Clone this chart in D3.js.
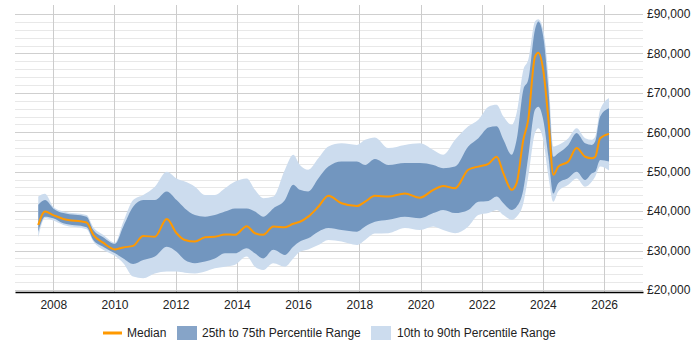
<!DOCTYPE html>
<html>
<head>
  <meta charset="utf-8">
  <script src="https://d3js.org/d3.v7.min.js"></script>
  <style>
    html, body { margin: 0; padding: 0; background: #fff; }
    svg { display: block; font-family: "Liberation Sans", Arial, sans-serif; }
  </style>
</head>
<body>
  <svg width="700" height="350"></svg>
  <script>
    // decimal years
    const years = [2007.51, 2007.73, 2008.0, 2008.33, 2009.09, 2009.31, 2009.63, 2010.02, 2010.29, 2010.61,
      2010.94, 2011.32, 2011.71, 2012.03, 2012.30, 2012.63, 2012.96, 2013.28, 2013.61, 2013.94,
      2014.32, 2014.59, 2014.86, 2015.19, 2015.57, 2015.84, 2016.06, 2016.33, 2016.66, 2016.99,
      2017.42, 2017.92, 2018.19, 2018.51, 2018.95, 2019.49, 2019.98, 2020.42, 2020.74, 2021.13,
      2021.56, 2021.89, 2022.22, 2022.49, 2022.71, 2022.98, 2023.14, 2023.36, 2023.52, 2023.74,
      2023.85, 2024.01, 2024.18, 2024.34, 2024.5, 2024.83, 2025.1, 2025.38, 2025.6, 2025.71,
      2025.87, 2026.16];
    const median = [36500, 39900, 39000, 38000, 37100, 34000, 32000, 30300, 30800, 31200,
      33700, 33500, 38000, 34400, 32700, 32300, 33400, 33500, 34100, 34000,
      36200, 34400, 34000, 36100, 35900, 36800, 37300, 38600, 41100, 43900,
      42000, 41300, 42400, 43900, 43700, 44500, 43400, 45400, 46400, 45800,
      50500, 51300, 52000, 53800, 49600, 45400, 47100, 58100, 63200, 79200,
      80200, 75800, 63200, 49200, 51300, 52600, 56000, 53800, 53400, 53800,
      58500, 59600];
    const p25 = [34800, 38600, 38200, 36900, 35900, 32700, 31000, 29300, 28000, 26600,
      27600, 28500, 31000, 29700, 27600, 26800, 27200, 28000, 29300, 29300,
      30600, 29300, 28000, 30200, 28900, 31000, 32300, 33100, 34800, 35700,
      35200, 34800, 36100, 37300, 37800, 38600, 38200, 39500, 40300, 39500,
      40300, 42400, 42600, 43700, 42000, 40300, 41100, 45400, 53800, 65700,
      66500, 63200, 53800, 44500, 47100, 48400, 50000, 47900, 49600, 50000,
      53000, 52600];
    const p75 = [41600, 42800, 40700, 39500, 38600, 35200, 33400, 31700, 36100, 41100,
      42800, 42800, 45000, 42800, 40700, 39000, 38600, 39000, 39900, 40700,
      40700, 39900, 38600, 40700, 42800, 46700, 45400, 45000, 48300, 51300,
      52600, 52600, 51700, 53200, 51700, 52200, 52200, 51700, 50900, 51300,
      56400, 58500, 61200, 61500, 58100, 54300, 58100, 70800, 73300, 86000,
      88100, 84300, 70800, 53800, 54700, 56800, 59800, 57200, 56800, 57700,
      64000, 66100];
    const p10 = [33400, 38200, 37600, 36500, 35400, 32300, 30200, 28600, 26800, 23400,
      23000, 24200, 24700, 24700, 24400, 24200, 24700, 25500, 25900, 26400,
      28500, 25900, 25100, 26800, 25900, 28000, 29700, 30300, 31400, 32700,
      32300, 31400, 32700, 34300, 34400, 35700, 35200, 36100, 35200, 34400,
      36100, 39000, 39500, 40300, 39000, 37800, 38600, 42000, 48800, 59800,
      61000, 58100, 48800, 42400, 45000, 46700, 48300, 46200, 47500, 48800,
      51300, 50300];
    const p90 = [43700, 44400, 41100, 39900, 39000, 35900, 34000, 32000, 37300, 42800,
      44100, 46200, 50000, 48300, 47500, 46200, 44100, 44100, 45800, 47500,
      48300, 45400, 43300, 43700, 50500, 54300, 51700, 50500, 53400, 56400,
      57200, 56800, 58100, 58700, 56000, 56800, 57200, 55500, 54300, 58100,
      61500, 63200, 66500, 67000, 64000, 61900, 64900, 75800, 78400, 88100,
      88700, 86000, 74100, 56400, 56800, 58500, 61000, 58500, 58100, 58900,
      65700, 68700];

    const xTicks = [2008, 2010, 2012, 2014, 2016, 2018, 2020, 2022, 2024, 2026];
    const yTicks = [20000, 30000, 40000, 50000, 60000, 70000, 80000, 90000];

    const rows = years.map((t, i) => ({
      t: t, med: median[i], p25: p25[i], p75: p75[i], p10: p10[i], p90: p90[i]
    }));

    const plotLeft = 15, plotRight = 643, plotTop = 5, plotBottom = 292;

    const x = d3.scaleLinear().domain([2006.75, 2027.27]).range([plotLeft, plotRight]);
    const y = d3.scaleLinear().domain([20000, 90000]).range([290, 14]);

    const svg = d3.select("svg");

    // grid
    const grid = svg.append("g");
    grid.selectAll("line.h")
      .data(d3.range(20000, 90001, 2000))
      .enter().append("line")
      .attr("x1", plotLeft).attr("x2", plotRight)
      .attr("y1", d => Math.round(y(d)) + 0.5).attr("y2", d => Math.round(y(d)) + 0.5)
      .attr("stroke", d => d % 10000 === 0 ? "#cfcfcf" : "#e8e8e8")
      .attr("stroke-width", 1);

    grid.selectAll("line.v")
      .data(xTicks)
      .enter().append("line")
      .attr("x1", d => Math.round(x(d)) + 0.5).attr("x2", d => Math.round(x(d)) + 0.5)
      .attr("y1", plotTop).attr("y2", plotBottom)
      .attr("stroke", "#cccccc")
      .attr("stroke-width", 1);

    // bands
    const curve = d3.curveMonotoneX;
    const outer = d3.area().curve(curve)
      .x(d => x(d.t)).y0(d => y(d.p10)).y1(d => y(d.p90));
    const inner = d3.area().curve(curve)
      .x(d => x(d.t)).y0(d => y(d.p25)).y1(d => y(d.p75));
    const medLine = d3.line().curve(curve)
      .x(d => x(d.t)).y(d => y(d.med));

    svg.append("path").datum(rows).attr("d", outer).attr("fill", "#ccdcee");
    svg.append("path").datum(rows).attr("d", inner).attr("fill", "#7296bf");
    svg.append("path").datum(rows).attr("d", medLine)
      .attr("fill", "none").attr("stroke", "#ff9900").attr("stroke-width", 2);

    // axes
    const xAxis = svg.append("g")
      .attr("transform", `translate(0,${plotBottom})`)
      .call(d3.axisBottom(x).tickValues(xTicks).tickFormat(d3.format("d")).tickSize(0).tickPadding(8));
    xAxis.select(".domain").attr("stroke", "#000").attr("stroke-width", 1.5);
    xAxis.selectAll("text").attr("font-size", 12).attr("fill", "#222").attr("font-family", "Liberation Sans, Arial, sans-serif");

    const yAxis = svg.append("g")
      .attr("transform", `translate(${plotRight},0)`)
      .call(d3.axisRight(y).tickValues(yTicks).tickFormat(d => "£" + d3.format(",")(d)).tickSize(0).tickPadding(4));
    yAxis.select(".domain").remove();
    yAxis.selectAll("text").attr("font-size", 12).attr("fill", "#222").attr("font-family", "Liberation Sans, Arial, sans-serif");

    // legend
    const lg = svg.append("g").attr("font-size", 12).attr("fill", "#222");
    lg.append("line").attr("x1", 103).attr("x2", 122).attr("y1", 333).attr("y2", 333)
      .attr("stroke", "#ff9900").attr("stroke-width", 3);
    lg.append("text").attr("x", 127).attr("y", 337).text("Median");
    lg.append("rect").attr("x", 177).attr("y", 326).attr("width", 20).attr("height", 14).attr("fill", "#86a4c8");
    lg.append("text").attr("x", 202).attr("y", 337).text("25th to 75th Percentile Range");
    lg.append("rect").attr("x", 371).attr("y", 326).attr("width", 20).attr("height", 14).attr("fill", "#ccdcee");
    lg.append("text").attr("x", 397).attr("y", 337).text("10th to 90th Percentile Range");
  </script>
</body>
</html>
